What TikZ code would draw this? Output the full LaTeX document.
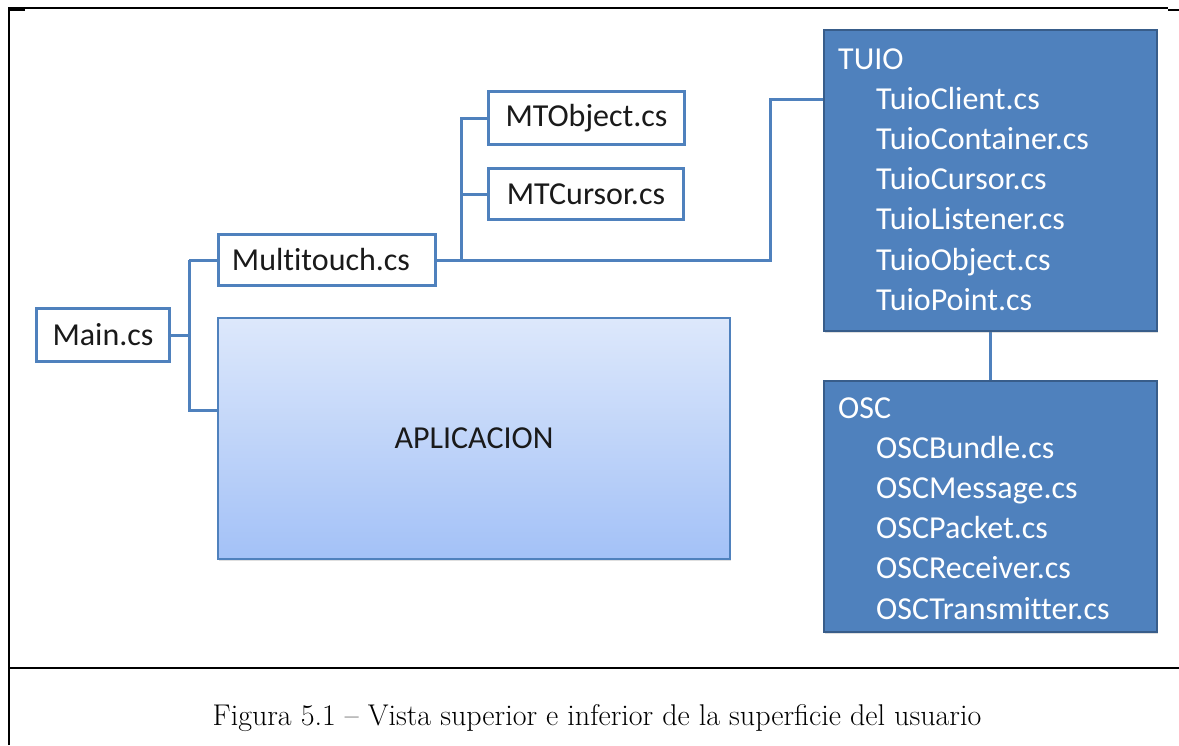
\documentclass[tikz,border=0pt]{standalone}
\usepackage{fontspec}
\newfontfamily\calib[Ligatures=NoCommon]{Carlito}
\usetikzlibrary{shadows,backgrounds}
\definecolor{accent}{HTML}{4F81BD}
\definecolor{accentdark}{HTML}{385D8A}
\definecolor{appltop}{HTML}{DDE8FB}
\definecolor{applbot}{HTML}{A3C1F7}
\definecolor{inktext}{HTML}{1A1A1A}

\begin{document}
\begin{tikzpicture}[x=1pt,y=-1pt,
  filebox/.style={draw=accent, line width=3pt, fill=white, inner sep=0pt,
    text=inktext, font=\calib\fontsize{32}{38}\selectfont},
  link/.style={draw=accent, line width=3pt},
  pkgbox/.style={draw=accentdark, line width=2pt, fill=accent, inner sep=0pt,
    drop shadow={shadow xshift=1pt, shadow yshift=-2pt, opacity=0.25}},
  pkgtext/.style={anchor=base west, text=white, inner sep=0pt,
    font=\calib\fontsize{32}{38}\selectfont},
  frameline/.style={line width=2pt, draw=black}]

\useasboundingbox (0,0) rectangle (1179,745);

% table frame around the figure
\draw[frameline] (9,745) -- (9,8) -- (1168,8);
\draw[frameline] (9,10) -- (25,10);
\draw[frameline] (1168,10) -- (1179,10);
\draw[frameline] (9,668) -- (1179,668);

% source files
\node[filebox, minimum width=133, minimum height=53] (main) at (103,335) {Main.cs};
\node[filebox, minimum width=217, minimum height=51] (multi) at (327,260) {Multitouch.cs\hspace*{12pt}};
\node[filebox, minimum width=196, minimum height=53] (mtobj) at (586.5,118) {MTObject.cs};
\node[filebox, minimum width=195, minimum height=51] (mtcur) at (586,194) {MTCursor.cs};

% application area
\node[draw=accent, line width=1.5pt, top color=appltop, bottom color=applbot,
  minimum width=512, minimum height=241, inner sep=0pt,
  drop shadow={shadow xshift=1pt, shadow yshift=-2pt, opacity=0.25},
  text=inktext, font=\calib\fontsize{32}{38}\selectfont]
  (app) at (474,438.5) {APLICACION};

% TUIO package
\node[pkgbox, minimum width=333, minimum height=301] (tuio) at (990.5,180.5) {};
\node[pkgtext] (tuiohead) at (838,69) {TUIO};
\foreach \name [count=\i] in {TuioClient.cs,TuioContainer.cs,TuioCursor.cs,
    TuioListener.cs,TuioObject.cs,TuioPoint.cs}
  \node[pkgtext] (tuio\i) at (876,{69+40.2*\i}) {\name};

% OSC package
\node[pkgbox, minimum width=333, minimum height=251] (osc) at (990.5,506.5) {};
\node[pkgtext] (oschead) at (838,418) {OSC};
\foreach \name [count=\i] in {OSCBundle.cs,OSCMessage.cs,OSCPacket.cs,
    OSCReceiver.cs,OSCTransmitter.cs}
  \node[pkgtext] (osc\i) at (876,{418+40.2*\i}) {\name};

% junction points of the tree connectors
\coordinate (jmain) at (189,335);
\coordinate (japp) at (189,410);
\coordinate (jmulti) at (461,260);
\coordinate (jtuio) at (770,99);

\begin{pgfonlayer}{background}
  \draw[link] (main.east) -- (jmain);
  \draw[link] (multi.west -| jmain) |- (japp) -- (app.west |- japp);
  \draw[link] (jmain |- multi.west) -- (multi.west);
  \draw[link] (multi.east) -- (jmulti) |- (mtobj.west);
  \draw[link] (jmulti |- mtcur.west) -- (mtcur.west);
  \draw[link] (jmulti) -| (jtuio) -- (tuio.west |- jtuio);
  \draw[link] (tuio.south) -- (osc.north);
\end{pgfonlayer}

% caption
\node[font=\fontsize{30}{34}\selectfont, inner sep=0pt] (caption) at (597,718)
  {Figura 5.1 -- Vista superior e inferior de la superficie del usuario};
\end{tikzpicture}
\end{document}
